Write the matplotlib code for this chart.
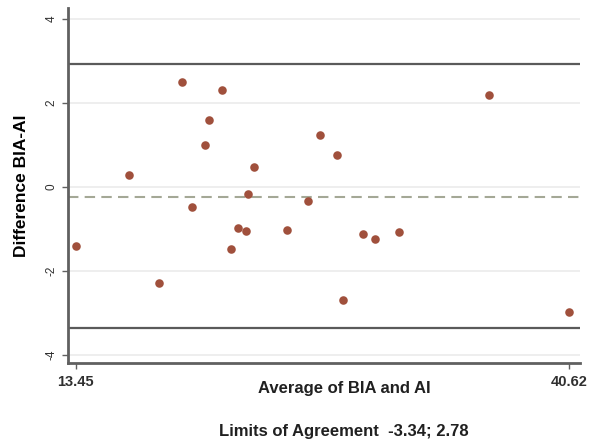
import numpy as np
import matplotlib.pyplot as plt

plt.rcParams['font.family'] = ['Liberation Sans', 'DejaVu Sans']

# Bland-Altman data
avg_vals = [13.45, 16.37, 18.02, 19.28, 19.84, 20.56, 20.78, 21.49, 21.99, 22.38,
            22.82, 22.93, 23.26, 25.10, 26.24, 26.90, 27.84, 28.15, 29.25, 29.93,
            31.27, 36.20, 40.62]
diff_vals = [-1.40, 0.28, -2.28, 2.50, -0.47, 1.00, 1.59, 2.30, -1.47, -0.97,
             -1.04, -0.18, 0.48, -1.02, -0.34, 1.24, 0.75, -2.69, -1.12, -1.24,
             -1.07, 2.18, -2.98]
mean_diff = -0.25
upper_line = 2.93
lower_line = -3.36
y_ticks = [-4, -2, 0, 2, 4]
x_ticks = [13.45, 40.62]

fig = plt.figure(figsize=(6.06, 4.43), dpi=100)
ax = fig.add_axes([0.112, 0.181, 0.845, 0.801])

for t in y_ticks:
    ax.axhline(t, color='#ebebeb', lw=1.2, zorder=0)
ax.axhline(upper_line, color='#5a5a5a', lw=1.6, zorder=1)
ax.axhline(lower_line, color='#5a5a5a', lw=1.6, zorder=1)
ax.axhline(mean_diff, color='#a4a896', lw=1.5, ls=(0, (5, 3)), zorder=1)

ax.scatter(avg_vals, diff_vals, s=38, color='#a0503c', zorder=3, linewidths=0)

ax.set_xlim(13.01, 41.23)
ax.set_ylim(-4.19, 4.26)
ax.set_yticks(y_ticks)
ax.set_yticklabels([str(t) for t in y_ticks], rotation=90, va='center', fontsize=8.5)
ax.set_xticks(x_ticks)
ax.set_xticklabels(['13.45', '40.62'], fontsize=10.5, fontweight='bold')

for s in ['top', 'right']:
    ax.spines[s].set_visible(False)
for s in ['left', 'bottom']:
    ax.spines[s].set_color('#606060')
    ax.spines[s].set_linewidth(2)
ax.tick_params(colors='#303030', length=4, width=1, color='#606060')
ax.tick_params(axis='x', pad=5)

ax.set_ylabel('Difference BIA-AI', fontsize=12.5, fontweight='bold', labelpad=12)
fig.text(0.568, 0.124, 'Average of BIA and AI', ha='center', va='center',
         fontsize=12, fontweight='bold', color='#202020')
fig.text(0.568, 0.027, 'Limits of Agreement  -3.34; 2.78', ha='center', va='center',
         fontsize=12, fontweight='bold', color='#202020')

fig.savefig('out.png', dpi=100)
